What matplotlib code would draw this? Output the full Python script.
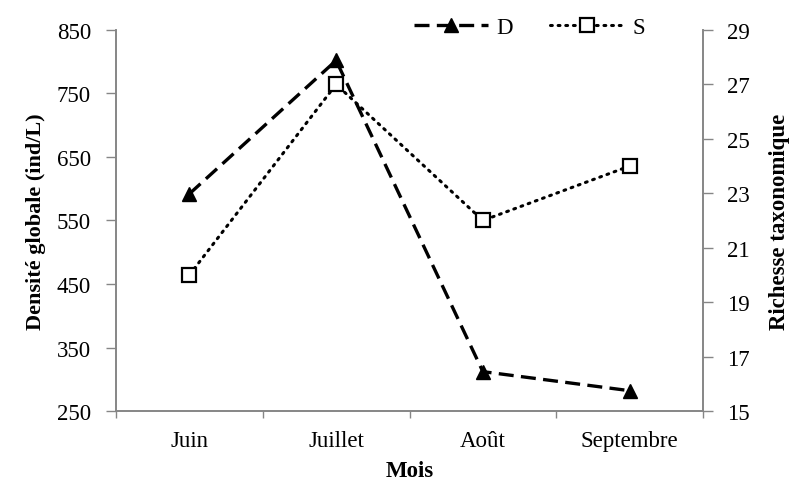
import numpy as np
import matplotlib.pyplot as plt
from matplotlib.ticker import FixedLocator

plt.rcParams['font.family'] = ['Liberation Serif', 'DejaVu Serif']

mois = ['Juin', 'Juillet', 'Août', 'Septembre']
densite = [592, 802, 312, 282]       # D, axe gauche
richesse = [20, 27, 22, 24]           # S, axe droit

x = np.arange(len(mois))

fig = plt.figure(figsize=(7.92, 4.85), dpi=100)
ax = fig.add_axes([0.1465, 0.1505, 0.7411, 0.7856])
ax2 = ax.twinx()

gray = '#868686'

l1, = ax.plot(x, densite, color='black', lw=2.4, linestyle=(0, (4.5, 2.2)),
              marker='^', markersize=10, markerfacecolor='black',
              markeredgecolor='black', label='D')
l2, = ax2.plot(x, richesse, color='black', lw=2.2, linestyle=(0, (0.6, 1.9)),
               dash_capstyle='round', marker='s', markersize=10,
               markerfacecolor='white', markeredgecolor='black',
               markeredgewidth=1.6, label='S')

ax.set_xlim(-0.5, 3.5)
ax.set_ylim(250, 850)
ax.set_yticks(np.arange(250, 851, 100))
ax2.set_ylim(15, 29)
ax2.set_yticks(np.arange(15, 30, 2))

ax.set_xticks(x)
ax.set_xticklabels(mois)
ax.xaxis.set_minor_locator(FixedLocator(np.arange(-0.5, 3.6, 1)))
ax.tick_params(axis='x', which='major', length=0, pad=14, labelsize=16.5)
ax.tick_params(axis='x', which='minor', length=5, color=gray, width=1)
ax.tick_params(axis='y', length=7, color=gray, width=1, labelsize=16.5, pad=11)
ax2.tick_params(axis='y', length=7, color=gray, width=1, labelsize=16.5, pad=10)

for a in (ax, ax2):
    a.spines['top'].set_visible(False)
    for s in ('left', 'right', 'bottom'):
        a.spines[s].set_color(gray)
        a.spines[s].set_linewidth(1.2)

ax.set_xlabel('Mois', fontsize=16.5, fontweight='bold', labelpad=6)
ax.set_ylabel('Densité globale (ind/L)', fontsize=16, fontweight='bold', labelpad=8)
ax2.set_ylabel('Richesse taxonomique', fontsize=16.5, fontweight='bold', labelpad=14)

fig.legend(handles=[l1, l2], loc='upper left', bbox_to_anchor=(0.497, 1.005),
           ncol=2, frameon=False, fontsize=16.5, handlelength=3.2,
           columnspacing=1.6, handletextpad=0.4)

plt.savefig('out.png', dpi=100)
